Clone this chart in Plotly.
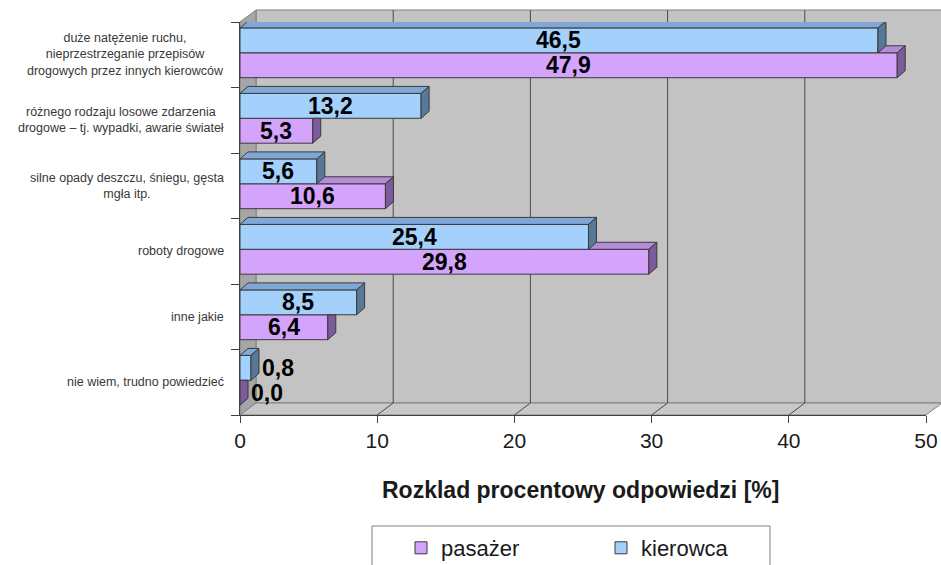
import plotly.graph_objects as go

# --- data -------------------------------------------------------------
categories = [
    "duże natężenie ruchu,<br>nieprzestrzeganie przepisów<br>drogowych przez innych kierowców",
    "różnego rodzaju losowe zdarzenia<br>drogowe – tj. wypadki, awarie świateł",
    "silne opady deszczu, śniegu, gęsta<br>mgła itp.",
    "roboty drogowe",
    "inne jakie",
    "nie wiem, trudno powiedzieć",
]
kierowca = [46.5, 13.2, 5.6, 25.4, 8.5, 0.8]
pasazer = [47.9, 5.3, 10.6, 29.8, 6.4, 0.0]
x_ticks = [0, 10, 20, 30, 40, 50]
axis_title = "Rozklad procentowy odpowiedzi [%]"
name_kierowca = "kierowca"
name_pasazer = "pasażer"

# --- layout geometry ---------------------------------------------------
FONT = "Arial, 'Liberation Sans', sans-serif"
W, H = 941, 565
L, R, T, B = 240, 15, 22, 150
PW, PH = W - L - R, H - T - B
X_MAX = x_ticks[-1]
N = len(categories)

DX, DY = 16, 12      # depth of the walls (px)
BDX, BDY = 8, 7      # depth of the bars (px)
ux = PW / X_MAX
uy = PH / N
ddx = BDX / ux
ddy = BDY / uy

BAR_W = 0.38
K_OFF = -0.22
P_OFF = 0.16

K_FRONT, K_TOP, K_SIDE = "#A4D0FC", "#7FA8D6", "#58789A"
P_FRONT, P_TOP, P_SIDE = "#D4A3FC", "#B68BD9", "#7C5A9C"
EDGE = "#3A3A3A"


def fmt(v):
    return f"{v:.1f}".replace(".", ",")


def py2paper(py):
    return (T + PH - py) / PH


def px2paper(px):
    return (px - L) / PW


fig = go.Figure()
ys = list(range(N))

fig.add_trace(go.Bar(
    name=name_pasazer, orientation="h", x=pasazer,
    y=[i + P_OFF for i in ys], width=BAR_W,
    marker=dict(color=P_FRONT, line=dict(color=EDGE, width=1)),
))
fig.add_trace(go.Bar(
    name=name_kierowca, orientation="h", x=kierowca,
    y=[i + K_OFF for i in ys], width=BAR_W,
    marker=dict(color=K_FRONT, line=dict(color=EDGE, width=1)),
))


def face(xs, yv, color):
    fig.add_trace(go.Scatter(
        x=xs + [xs[0]], y=yv + [yv[0]], mode="lines", fill="toself",
        fillcolor=color, line=dict(color=EDGE, width=1),
        showlegend=False, hoverinfo="skip",
    ))


# top and side faces that give the bars their depth
for i in ys:
    kv, pv = kierowca[i], pasazer[i]
    k_top, k_bot = i + K_OFF - BAR_W / 2, i + K_OFF + BAR_W / 2
    p_top, p_bot = i + P_OFF - BAR_W / 2, i + P_OFF + BAR_W / 2
    if pv > kv:
        face([kv, pv, pv + ddx, kv], [p_top, p_top, p_top - ddy, p_top - ddy], P_TOP)
        face([pv, pv, pv + ddx, pv + ddx], [p_top, p_bot, p_bot - ddy, p_top - ddy], P_SIDE)
    else:
        face([pv, pv, pv + ddx, pv + ddx], [p_top, p_bot, p_bot - ddy, p_top], P_SIDE)
    face([0, kv, kv + ddx, ddx], [k_top, k_top, k_top - ddy, k_top - ddy], K_TOP)
    face([kv, kv, kv + ddx, kv + ddx], [k_top, k_bot, k_bot - ddy, k_top - ddy], K_SIDE)

# --- walls, floor and gridlines ---------------------------------------
shapes = []


def wall(path, fill):
    return dict(type="path", xref="paper", yref="paper",
                xsizemode="pixel", ysizemode="pixel", xanchor=0, yanchor=0,
                path=path, fillcolor=fill, layer="below",
                line=dict(color="#808080", width=1))


shapes.append(wall(f"M{DX},{DY} L{PW + DX},{DY} L{PW + DX},{PH + DY} L{DX},{PH + DY} Z", "#C3C3C3"))
shapes.append(wall(f"M0,0 L0,{PH} L{DX},{PH + DY} L{DX},{DY} Z", "#A6A6A6"))
shapes.append(wall(f"M0,0 L{PW},0 L{PW + DX},{DY} L{DX},{DY} Z", "#C8C8C8"))

for t in x_ticks[1:-1]:
    shapes.append(dict(type="path", xref="x", yref="paper",
                       xsizemode="pixel", ysizemode="pixel", xanchor=t, yanchor=0,
                       path=f"M0,0 L{DX},{DY} L{DX},{PH + DY}",
                       line=dict(color="#4A4A4A", width=1), layer="below"))

# legend frame
shapes.append(dict(type="rect", xref="paper", yref="paper",
                   x0=px2paper(372), x1=px2paper(770),
                   y0=py2paper(526), y1=py2paper(590),
                   line=dict(color="#808080", width=1), fillcolor="rgba(0,0,0,0)"))

# --- annotations --------------------------------------------------------
annotations = []
for i, cat in enumerate(categories):
    annotations.append(dict(
        text=cat, xref="paper", x=0, xanchor="right", xshift=-14,
        yref="y", y=i, yanchor="middle", align="center", showarrow=False,
        font=dict(family=FONT, size=12.5, color="#383838"),
    ))

label_font = dict(family=FONT, size=23, color="#000000", weight="bold")
for vals, off in ((kierowca, K_OFF), (pasazer, P_OFF)):
    for i, v in enumerate(vals):
        if v >= 3:
            annotations.append(dict(text=fmt(v), x=v / 2, y=i + off, xref="x", yref="y",
                                    xanchor="center", yanchor="middle",
                                    showarrow=False, font=label_font))
        else:
            annotations.append(dict(text=fmt(v), x=v, y=i + off, xref="x", yref="y",
                                    xanchor="left", yanchor="middle", xshift=BDX + 1,
                                    showarrow=False, font=label_font))

annotations.append(dict(
    text=axis_title, xref="paper", yref="paper",
    x=px2paper(580), y=py2paper(490), xanchor="center", yanchor="middle",
    showarrow=False, font=dict(family=FONT, size=23, color="#1A1A1A", weight="bold"),
))

fig.update_layout(
    width=W, height=H,
    margin=dict(l=L, r=R, t=T, b=B, autoexpand=False),
    paper_bgcolor="white", plot_bgcolor="rgba(0,0,0,0)",
    barmode="overlay",
    showlegend=True,
    legend=dict(
        orientation="h", xref="container", yref="container",
        x=401 / W, y=1 - 548 / H, xanchor="left", yanchor="middle",
        bgcolor="rgba(0,0,0,0)", borderwidth=0,
        font=dict(family=FONT, size=22, color="#1A1A1A"),
        entrywidth=155, entrywidthmode="pixels", traceorder="normal",
    ),
    xaxis=dict(
        range=[0, X_MAX], tickvals=x_ticks, ticks="outside", ticklen=7,
        tickcolor="#404040", showline=True, linecolor="#404040", linewidth=1,
        showgrid=False, zeroline=False,
        tickfont=dict(family=FONT, size=21, color="#1A1A1A"),
    ),
    yaxis=dict(
        range=[N - 0.5, -0.5], tickvals=[k - 0.5 for k in range(N + 1)],
        ticktext=[""] * (N + 1), ticks="outside", ticklen=8,
        tickcolor="#404040", showline=True, linecolor="#404040", linewidth=1,
        showgrid=False, zeroline=False,
    ),
    shapes=shapes,
    annotations=annotations,
)

fig.write_html("out.html")
